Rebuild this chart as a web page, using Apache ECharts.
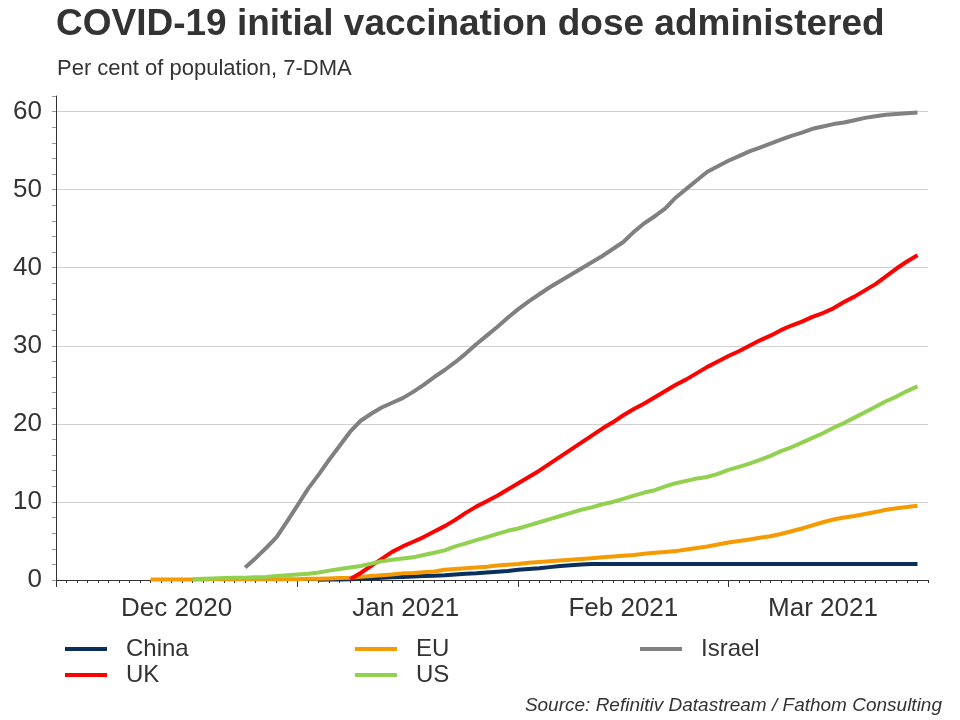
<!DOCTYPE html>
<html>
<head>
<meta charset="utf-8">
<title>COVID-19 initial vaccination dose administered</title>
<script src="https://cdn.jsdelivr.net/npm/echarts@6/dist/echarts.min.js"></script>
<style>
  html, body { margin: 0; padding: 0; background: #fff; }
  #chart { width: 960px; height: 720px; }
</style>
</head>
<body>
<div id="chart"></div>
<script>
// weekday categories, 1 Dec 2020 - 26 Mar 2021 (last one has no data)
const dates = [];
for (let d = new Date(Date.UTC(2020, 11, 1)); d <= new Date(Date.UTC(2021, 2, 26)); d.setUTCDate(d.getUTCDate() + 1)) {
  const wd = d.getUTCDay();
  if (wd !== 0 && wd !== 6) dates.push(d.toISOString().slice(0, 10));
}

const tickLabels = ['Dec 2020', 'Jan 2021', 'Feb 2021', 'Mar 2021'];
const tickLabelDates = ['2020-12-16', '2021-01-15', '2021-02-15', '2021-03-12'];
const monthStarts = ['2020-12-01', '2021-01-01', '2021-02-01', '2021-03-01'];

// first date with data for each series
const chinaFrom = '2021-01-05';
const euFrom = '2020-12-14';
const israelFrom = '2020-12-25';
const ukFrom = '2021-01-08';
const usFrom = '2020-12-18';

const china = [0.02, 0.05, 0.08, 0.1, 0.15, 0.2, 0.3, 0.35, 0.4, 0.45, 0.5, 0.55, 0.6, 0.7, 0.8, 0.85,
  0.95, 1.05, 1.15, 1.3, 1.4, 1.5, 1.65, 1.8, 1.9, 2.0, 2.05, 2.05, 2.05, 2.05, 2.05, 2.05, 2.05, 2.05,
  2.05, 2.05, 2.05, 2.05, 2.05, 2.05, 2.05, 2.05, 2.05, 2.05, 2.05, 2.05, 2.05, 2.05, 2.05, 2.05, 2.05,
  2.05, 2.05, 2.05, 2.05, 2.05, 2.05, 2.05];
const eu = [0.05, 0.05, 0.05, 0.05, 0.05, 0.05, 0.1, 0.1, 0.1, 0.1, 0.1, 0.1, 0.1, 0.1, 0.1,
  0.15, 0.15, 0.2, 0.25, 0.3, 0.4, 0.5, 0.6, 0.7, 0.85, 0.9, 1.0, 1.1, 1.3, 1.4, 1.5, 1.6, 1.7, 1.85,
  1.95, 2.05, 2.2, 2.3, 2.4, 2.5, 2.6, 2.7, 2.8, 2.9, 3.0, 3.1, 3.2, 3.35, 3.5, 3.6, 3.7, 3.9, 4.1,
  4.3, 4.55, 4.8, 5.0, 5.2, 5.4, 5.6, 5.9, 6.25, 6.6, 7.0, 7.4, 7.75, 8.0, 8.2, 8.45, 8.7, 9.0, 9.2,
  9.35, 9.5];
const israel = [1.6, 2.8, 4.1, 5.5, 7.5, 9.6, 11.7, 13.5, 15.4, 17.2, 19.0, 20.4, 21.3, 22.1, 22.7,
  23.3, 24.1, 25.0, 26.0, 26.9, 27.9, 29.0, 30.2, 31.3, 32.4, 33.6, 34.7, 35.7, 36.6, 37.5, 38.3,
  39.1, 39.9, 40.7, 41.5, 42.4, 43.3, 44.6, 45.7, 46.6, 47.6, 49.0, 50.1, 51.2, 52.3, 53.0, 53.7,
  54.3, 54.9, 55.4, 55.9, 56.4, 56.9, 57.3, 57.8, 58.1, 58.4, 58.6, 58.9, 59.2, 59.4, 59.6, 59.7,
  59.8, 59.9];
const uk = [0.1, 0.9, 1.8, 2.7, 3.6, 4.3, 4.9, 5.5, 6.2, 6.9, 7.7, 8.6, 9.4, 10.1, 10.8, 11.6, 12.4,
  13.2, 14.0, 14.9, 15.8, 16.7, 17.6, 18.5, 19.4, 20.2, 21.1, 21.9, 22.6, 23.4, 24.2, 25.0, 25.7,
  26.5, 27.3, 28.0, 28.7, 29.3, 30.0, 30.7, 31.3, 32.0, 32.6, 33.1, 33.7, 34.2, 34.8, 35.6, 36.3,
  37.1, 37.9, 38.9, 39.9, 40.8, 41.6];
const us = [0.1, 0.15, 0.2, 0.25, 0.3, 0.3, 0.35, 0.4, 0.5, 0.6, 0.7, 0.8, 0.95, 1.2, 1.4, 1.6, 1.8,
  2.1, 2.4, 2.6, 2.75, 2.9, 3.2, 3.5, 3.8, 4.3, 4.7, 5.1, 5.5, 5.9, 6.3, 6.6, 7.0, 7.4, 7.8, 8.2, 8.6,
  9.0, 9.3, 9.7, 10.0, 10.4, 10.8, 11.2, 11.5, 12.0, 12.4, 12.7, 13.0, 13.2, 13.6, 14.1, 14.5, 14.9,
  15.4, 15.9, 16.5, 17.0, 17.6, 18.2, 18.8, 19.5, 20.1, 20.8, 21.5, 22.2, 22.9, 23.5, 24.2, 24.8];

// put a series on the category axis, starting at its first date
function align(from, vals) {
  const out = dates.map(() => null);
  const start = dates.indexOf(from);
  vals.forEach((v, i) => { out[start + i] = v; });
  return out;
}

const font = "'Liberation Sans', Arial, sans-serif";
const txt = '#333';

const chart = echarts.init(document.getElementById('chart'));

function line(name, color, data) {
  return {
    name: name,
    type: 'line',
    data: data,
    color: color,
    showSymbol: false,
    symbol: 'none',
    connectNulls: false,
    lineStyle: { width: 4, color: color, cap: 'butt' },
    emphasis: { disabled: true }
  };
}

function legend(left, names) {
  return {
    left: left,
    top: 636,
    orient: 'vertical',
    padding: 0,
    itemGap: 0,
    itemWidth: 42,
    itemHeight: 4,
    icon: 'rect',
    data: names,
    textStyle: { fontFamily: font, fontSize: 24, color: txt, lineHeight: 26, padding: [0, 0, 0, 14] }
  };
}

chart.setOption({
  animation: false,
  backgroundColor: '#fff',
  title: [
    {
      text: 'COVID-19 initial vaccination dose administered',
      left: 56, top: 6, padding: 0,
      textStyle: { fontFamily: font, fontSize: 37, fontWeight: 'bold', color: txt }
    },
    {
      text: 'Per cent of population, 7-DMA',
      left: 57, top: 58, padding: 0,
      textStyle: { fontFamily: font, fontSize: 22, fontWeight: 'normal', color: txt }
    },
    {
      text: 'Source: Refinitiv Datastream / Fathom Consulting',
      right: 18, top: 696, padding: 0,
      textStyle: { fontFamily: font, fontSize: 19, fontStyle: 'italic', fontWeight: 'normal', color: txt }
    }
  ],
  legend: [
    legend(65, ['China', 'UK']),
    legend(355, ['EU', 'US']),
    legend(640, ['Israel'])
  ],
  grid: { left: 56, right: 32, top: 96, height: 484, containLabel: false },
  xAxis: [
    {
      type: 'category',
      data: dates,
      boundaryGap: false,
      position: 'bottom',
      axisLine: { lineStyle: { color: '#333', width: 1 } },
      axisTick: { interval: 0, length: 3, lineStyle: { color: '#333' } },
      axisLabel: {
        interval: (i, v) => tickLabelDates.indexOf(v) >= 0,
        formatter: (v) => {
          const k = tickLabelDates.indexOf(v);
          if (k < 0) return '';
          if (k === 0) return '{a|' + tickLabels[k] + '}';
          if (k === 1) return '{b|' + tickLabels[k] + '}';
          return tickLabels[k];
        },
        rich: {
          a: { fontFamily: font, fontSize: 26, color: txt, padding: [0, 0, 0, 10] },
          b: { fontFamily: font, fontSize: 26, color: txt, padding: [0, 0, 0, 6] }
        },
        margin: 16,
        fontFamily: font, fontSize: 26, color: txt
      },
      splitLine: { show: false }
    },
    {
      type: 'category',
      data: dates,
      boundaryGap: false,
      position: 'bottom',
      axisLine: { show: false },
      axisTick: {
        interval: (i, v) => monthStarts.indexOf(v) >= 0,
        length: 7,
        lineStyle: { color: '#333' }
      },
      axisLabel: { show: false },
      splitLine: { show: false }
    }
  ],
  yAxis: {
    type: 'value',
    min: 0,
    max: 62,
    interval: 2,
    axisLine: { show: true, lineStyle: { color: '#333', width: 1 } },
    axisTick: { show: true, length: 4, lineStyle: { color: '#999' } },
    axisLabel: {
      formatter: (v) => (v % 10 === 0 ? String(v) : ''),
      margin: 14,
      fontFamily: font, fontSize: 26, color: txt
    },
    splitLine: {
      show: true,
      lineStyle: { color: ['#d0d0d0', 'transparent', 'transparent', 'transparent', 'transparent'], width: 1 }
    }
  },
  series: [
    line('China', '#0b2f5c', align(chinaFrom, china)),
    line('EU', '#f59a00', align(euFrom, eu)),
    line('Israel', '#808080', align(israelFrom, israel)),
    line('UK', '#ff0000', align(ukFrom, uk)),
    line('US', '#92d050', align(usFrom, us))
  ]
});
</script>
</body>
</html>
